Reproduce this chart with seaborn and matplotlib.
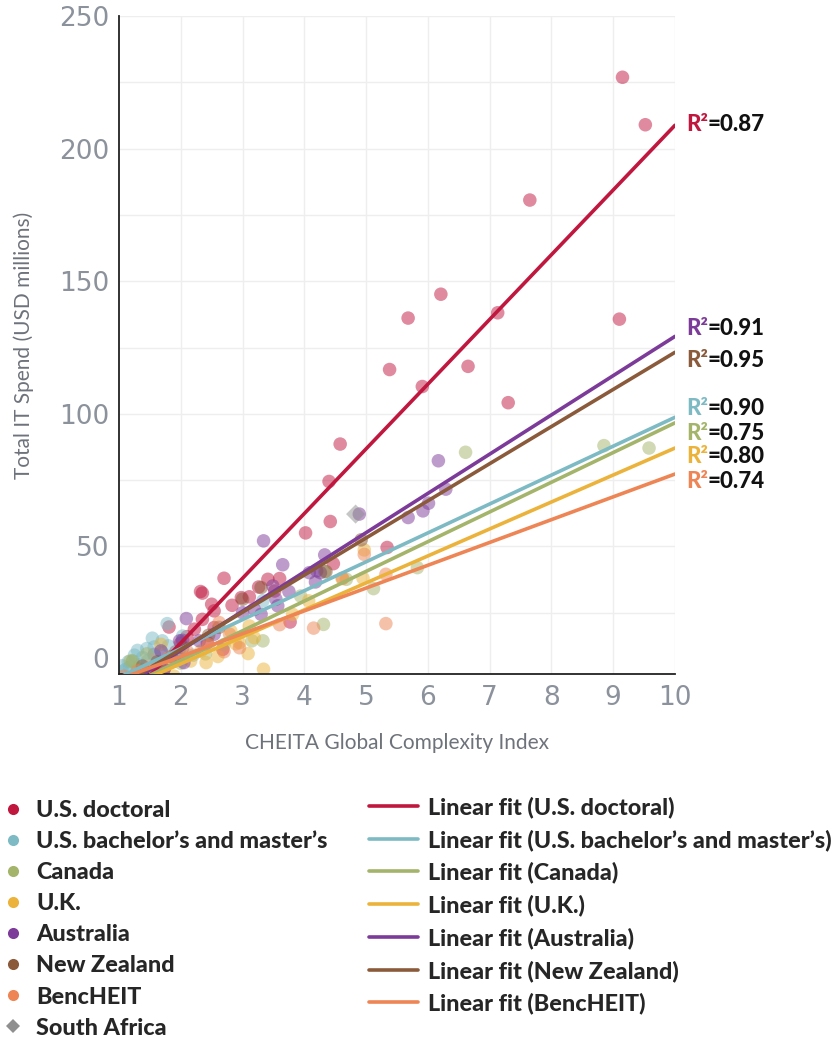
import numpy as np
import pandas as pd
import matplotlib
matplotlib.use("Agg")
import matplotlib.pyplot as plt
from matplotlib.lines import Line2D
import seaborn as sns

# ---------------- data ----------------
groups = ["U.S. doctoral", "U.S. bachelor’s and master’s", "Canada", "U.K.",
          "Australia", "New Zealand", "BencHEIT", "South Africa"]

doc_x = [9.15, 9.52, 7.65, 6.21, 5.68, 7.13, 9.10, 6.65, 5.91, 7.30, 5.38, 4.58, 4.40, 4.42,
         4.02, 5.34, 4.47, 3.60, 3.41, 3.26, 2.98, 3.11, 2.83, 3.52, 3.77, 2.70, 2.32, 2.35,
         2.50, 2.54, 1.81, 2.35, 2.22, 2.54, 2.68, 2.43, 1.73, 1.57, 1.92, 2.00, 2.10, 1.65]
doc_y = [226.9, 209.0, 180.6, 145.1, 136.1, 138.1, 135.7, 117.9, 110.3, 104.2, 116.7, 88.6,
         74.5, 59.4, 55.1, 49.6, 43.5, 37.9, 37.6, 34.7, 30.7, 31.0, 27.8, 33.2, 21.5, 38.0,
         33.0, 32.4, 28.2, 25.7, 19.6, 22.5, 18.8, 19.4, 11.2, 13.7, 3.7, 9.3, 10.3, 13.5,
         16.0, 5.5]

bm_x = [1.78, 2.03, 1.54, 1.70, 1.57, 1.97, 1.30, 1.38, 1.22, 1.17, 1.11, 1.06, 1.46, 1.35,
        1.57, 1.70, 3.33, 1.25, 1.45, 1.62, 1.80, 1.15, 1.40, 1.90, 2.20, 1.05, 1.28]
bm_y = [20.9, 16.2, 15.4, 14.4, 12.1, 10.8, 10.8, 8.1, 6.8, 4.5, 3.7, 3.0, 6.8, 5.5,
        8.7, 9.9, 29.5, 9.0, 11.5, 6.0, 12.5, 6.5, 3.5, 7.5, 9.0, 5.0, 2.5]

can_x = [6.61, 8.85, 9.58, 5.83, 4.31, 3.33, 3.15, 3.94, 4.33, 4.68, 5.12, 1.18, 1.22, 1.45,
         1.65, 2.00, 2.40, 2.70, 1.30]
can_y = [85.5, 88.0, 87.1, 42.0, 20.6, 14.4, 14.4, 31.3, 40.5, 37.6, 34.1, 6.8, 6.8, 9.5,
         4.5, 6.0, 9.5, 13.0, 4.0]

uk_x = [4.97, 4.95, 4.61, 4.07, 3.81, 3.09, 3.34, 2.95, 3.11, 3.19, 2.41, 2.81, 1.21, 1.25,
        1.89, 1.68, 2.16, 2.33, 2.89, 1.50, 1.75, 2.60]
uk_y = [48.7, 38.0, 37.9, 29.5, 24.4, 9.6, 3.7, 13.7, 20.0, 15.6, 6.2, 18.1, 0.5, 1.1,
        1.1, 13.1, 6.8, 10.6, 13.3, 3.0, 5.0, 8.5]

aus_x = [6.17, 6.29, 6.01, 5.92, 5.68, 4.89, 3.34, 3.65, 4.33, 4.08, 4.20, 4.26, 4.18, 3.49,
         3.75, 3.54, 3.57, 3.19, 3.30, 3.00, 2.09, 2.54, 2.03, 1.73, 2.05, 1.98, 1.68, 2.30]
aus_y = [82.3, 71.6, 66.3, 63.4, 60.9, 62.2, 52.1, 43.1, 46.8, 40.1, 40.8, 40.1, 36.6, 35.1,
         33.0, 30.1, 27.6, 26.3, 24.4, 25.0, 22.8, 16.9, 14.6, 3.7, 6.2, 14.4, 10.6, 14.4]

nz_x = [1.38, 1.62, 2.03, 2.45, 2.62, 3.00, 3.30, 4.35, 4.92, 1.85]
nz_y = [4.9, 6.5, 11.8, 16.5, 19.5, 30.1, 34.5, 40.5, 52.5, 8.5]

ben_x = [4.97, 4.62, 5.32, 5.32, 4.15, 2.62, 2.70, 2.79, 2.95, 1.08, 1.50, 1.80, 2.10, 2.45,
         1.30, 3.60]
ben_y = [47.0, 38.0, 39.5, 20.9, 19.2, 21.3, 10.3, 16.9, 11.8, 1.1, 4.5, 8.0, 10.5, 13.0,
         3.0, 20.5]

sa_x = [4.83]
sa_y = [62.2]

# linear fits (slope, intercept) and R^2, one per group except South Africa
fit_groups = groups[:7]
fit_slope = [24.4, 10.9, 11.2, 10.17, 14.8, 14.0, 8.6]
fit_intercept = [-35.2, -10.3, -15.4, -14.6, -18.8, -16.8, -8.7]
fit_r2 = ["0.87", "0.90", "0.75", "0.80", "0.91", "0.95", "0.74"]

x_ticks = [1, 2, 3, 4, 5, 6, 7, 8, 9, 10]
y_ticks = [0, 50, 100, 150, 200, 250]

colors = ["#C0173F", "#7DBAC4", "#A4B46A", "#EBB33B", "#7D3B99", "#8A5A3B", "#EE8555", "#8F8F8F"]
palette = dict(zip(groups, colors))

# ---------------- frames ----------------
xs = [doc_x, bm_x, can_x, uk_x, aus_x, nz_x, ben_x, sa_x]
ys = [doc_y, bm_y, can_y, uk_y, aus_y, nz_y, ben_y, sa_y]
pts = pd.concat([pd.DataFrame({"x": x, "y": y, "group": g}) for g, x, y in zip(groups, xs, ys)],
                ignore_index=True)
fits = pd.concat([pd.DataFrame({"x": [1.0, 10.0],
                                "y": [m * 1.0 + b, m * 10.0 + b],
                                "group": g})
                  for g, m, b in zip(fit_groups, fit_slope, fit_intercept)], ignore_index=True)

# ---------------- figure ----------------
sns.set_theme(style="white")
plt.rcParams["font.family"] = ["DejaVu Sans"]

W, H = 835, 1040
fig = plt.figure(figsize=(W / 100, H / 100), dpi=100)
ax = fig.add_axes([119 / W, 1 - 674 / H, (675 - 119) / W, (674 - 16) / H])

ymin = 1.9
ax.set_xlim(1, 10)
ax.set_ylim(ymin, 250)

# grid
for v in np.arange(2, 11, 1):
    ax.axvline(v, color="#EEEEEE", lw=1, zorder=0)
for v in np.arange(25, 251, 25):
    ax.axhline(v, color="#EEEEEE", lw=1, zorder=0)

markers = {g: "o" for g in groups}
markers["South Africa"] = "D"
sns.scatterplot(data=pts, x="x", y="y", hue="group", style="group", palette=palette,
                markers=markers, hue_order=groups, style_order=groups,
                s=95, alpha=0.5, linewidth=0, ax=ax, legend=False, zorder=2)

sns.lineplot(data=fits, x="x", y="y", hue="group", palette=palette, hue_order=fit_groups,
             lw=2.6, ax=ax, legend=False, zorder=3, estimator=None, sort=False)

for sp in ["top", "right"]:
    ax.spines[sp].set_visible(False)
for sp in ["left", "bottom"]:
    ax.spines[sp].set_color("#222222")
    ax.spines[sp].set_linewidth(1.3)

tick_col = "#8C929C"
ax.set_xticks(x_ticks)
ax.set_xticklabels([str(t) for t in x_ticks], fontsize=19, color=tick_col)
ypos = [max(t, ymin) for t in y_ticks]
ax.set_yticks(ypos)
ax.set_yticklabels([str(t) for t in y_ticks], fontsize=19, color=tick_col)
ax.get_yticklabels()[0].set_va("bottom")
ax.tick_params(axis="both", length=0, pad=8)
ax.tick_params(axis="y", pad=7)

ax.set_xlabel("CHEITA Global Complexity Index", fontsize=15, color="#6E737B",
              labelpad=16, family=["Lato", "DejaVu Sans"])
ax.set_ylabel("Total IT Spend (USD millions)", fontsize=15, color="#6E737B",
              labelpad=18, family=["Lato", "DejaVu Sans"])

# R^2 labels at line ends
lab_family = ["Lato", "DejaVu Sans"]
label_dy = [-1, -8.7, 10.3, 8, -8, 8.3, 7]  # px offsets (down positive)
for g, m, b, r, dy in zip(fit_groups, fit_slope, fit_intercept, fit_r2, label_dy):
    yend = m * 10 + b
    t1 = ax.annotate("R²", xy=(10, yend), xytext=(8, -dy * 0.72), textcoords="offset points",
                     color=palette[g], fontsize=16, fontweight="black", va="center",
                     ha="left", annotation_clip=False, family=lab_family)
    ax.annotate("=" + r, xy=(1, 0.5), xycoords=t1, xytext=(0, 0), textcoords="offset points",
                color="#111111", fontsize=16, fontweight="black", va="center", ha="left",
                family=lab_family)

# legends
leg_font = {"family": ["Lato", "DejaVu Sans"], "weight": "black", "size": 16.8}
h1 = []
for g in groups:
    mk = "D" if g == "South Africa" else "o"
    h1.append(Line2D([], [], ls="", marker=mk, markersize=8 if mk == "o" else 7.5,
                     markerfacecolor=palette[g], markeredgewidth=0))
fig.legend(h1, groups, loc="upper left", bbox_to_anchor=(-0.010, 1 - 791 / H),
           frameon=False, prop=leg_font, handlelength=1.0, handletextpad=0.5,
           labelspacing=0.43, borderaxespad=0)
h2 = [Line2D([], [], color=palette[g], lw=2.6) for g in fit_groups]
fig.legend(h2, ["Linear fit (" + g + ")" for g in fit_groups], loc="upper left",
           bbox_to_anchor=(370 / W - 0.012, 1 - 787 / H), frameon=False, prop=leg_font,
           handlelength=2.1, handletextpad=0.4, labelspacing=0.47, borderaxespad=0)

fig.savefig("out.png", dpi=100)
